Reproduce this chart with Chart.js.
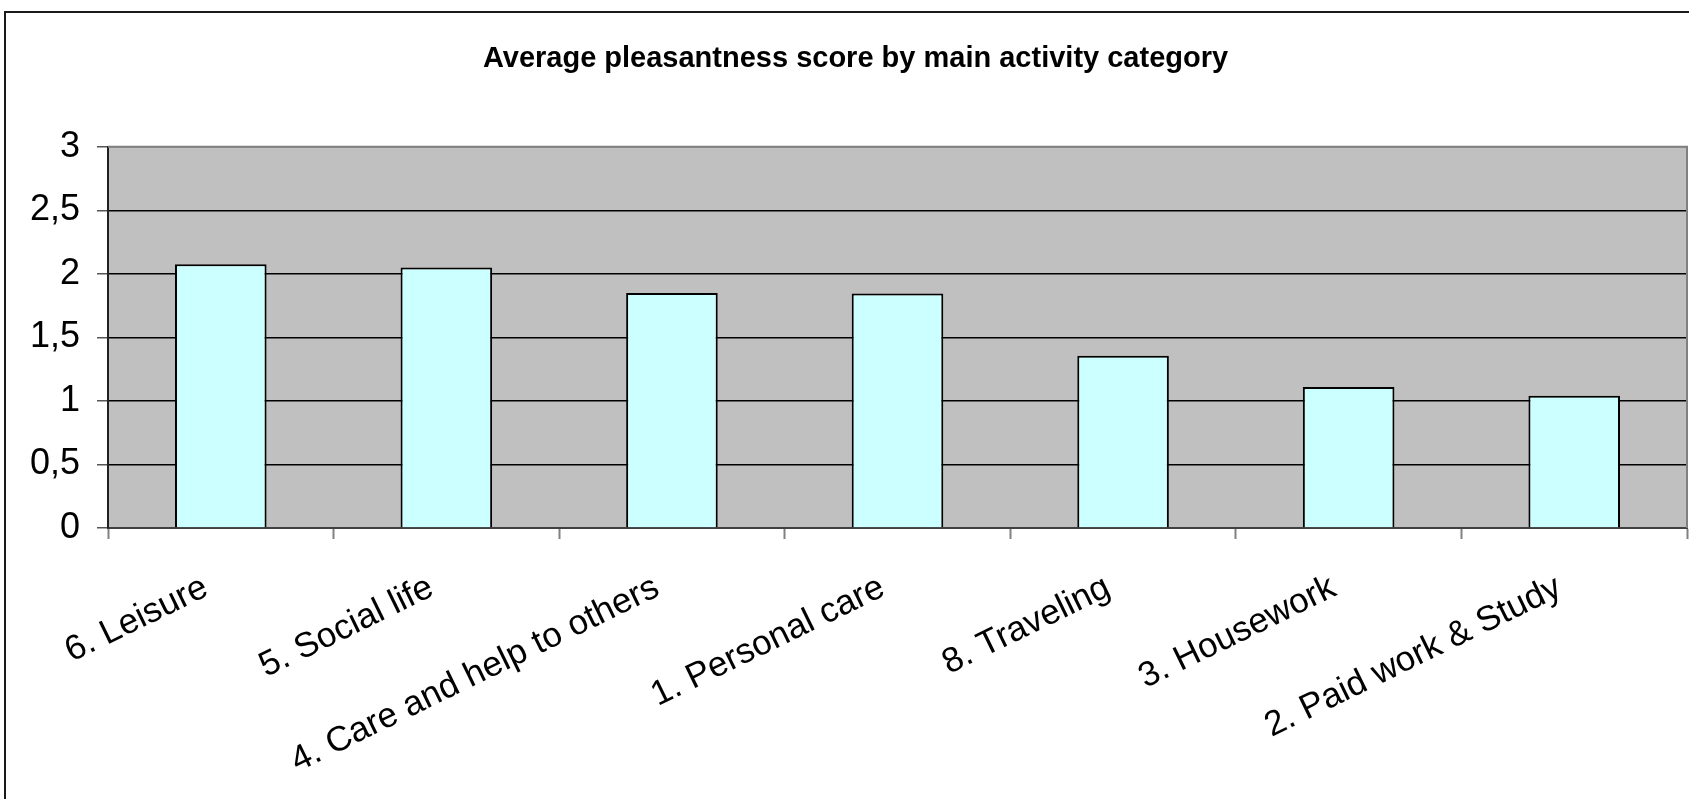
<!DOCTYPE html>
<html>
<head>
<meta charset="utf-8">
<script src="https://cdn.jsdelivr.net/npm/chart.js@4/dist/chart.umd.min.js"></script>
<style>
    html, body { margin: 0; padding: 0; background: #fff; overflow: hidden; }
    #wrap { position: relative; width: 1689px; height: 799px; }
    #frame {
        position: absolute; left: 4px; top: 11px; width: 2000px; height: 2000px;
        border: 2px solid #1a1a1a; pointer-events: none;
    }
</style>
</head>
<body>
<div id="wrap">
    <canvas id="chart" width="1689" height="799"></canvas>
    <div id="frame"></div>
</div>
<script>
const categories = [
    '6. Leisure',
    '5. Social life',
    '4. Care and help to others',
    '1. Personal care',
    '8. Traveling',
    '3. Housework',
    '2. Paid work & Study'
];
const scores = [2.075, 2.05, 1.85, 1.845, 1.355, 1.11, 1.04];
const yTicks = [0, 0.5, 1, 1.5, 2, 2.5, 3];
const chartTitle = 'Average pleasantness score by main activity category';

// gray plot background + gray top/right edge, like the old excel look
const plotArea = {
    id: 'plotArea',
    beforeDraw(chart) {
        const { ctx, chartArea } = chart;
        ctx.save();
        ctx.fillStyle = '#c0c0c0';
        ctx.fillRect(chartArea.left, chartArea.top, chartArea.right - chartArea.left, chartArea.bottom - chartArea.top);
        ctx.restore();
    },
    afterDraw(chart) {
        const { ctx, chartArea } = chart;
        ctx.save();
        ctx.strokeStyle = '#808080';
        ctx.lineWidth = 2;
        ctx.beginPath();
        ctx.moveTo(chartArea.left, chartArea.top);
        ctx.lineTo(chartArea.right, chartArea.top);
        ctx.lineTo(chartArea.right, chartArea.bottom);
        ctx.stroke();
        ctx.restore();
    }
};

const ctx = document.getElementById('chart').getContext('2d');

new Chart(ctx, {
    type: 'bar',
    data: {
        labels: categories,
        datasets: [{
            label: 'Average pleasantness',
            data: scores,
            backgroundColor: '#ccffff',
            borderColor: '#000000',
            borderWidth: 2,
            barPercentage: 0.406,
            categoryPercentage: 1
        }]
    },
    options: {
        responsive: false,
        animation: false,
        layout: {
            padding: { left: 24, right: 2, top: 0, bottom: 0 }
        },
        plugins: {
            legend: { display: false },
            tooltip: { enabled: false },
            title: {
                display: true,
                text: chartTitle,
                color: '#000',
                font: { family: "'Liberation Sans', Arial, sans-serif", size: 29, weight: 'bold' },
                padding: { top: 42, bottom: 70 }
            }
        },
        scales: {
            x: {
                offset: true,
                grid: {
                    offset: true,
                    drawOnChartArea: false,
                    drawTicks: true,
                    tickLength: 11,
                    tickColor: '#808080',
                    tickWidth: 2
                },
                border: { color: '#404040', width: 2 },
                ticks: {
                    autoSkip: false,
                    minRotation: 26,
                    maxRotation: 26,
                    padding: 28,
                    labelOffset: -15,
                    color: '#000',
                    font: { family: "'Liberation Sans', Arial, sans-serif", size: 35 }
                },
                afterFit: function (scale) {
                    scale.height = 271;
                }
            },
            y: {
                min: 0,
                max: 3,
                afterBuildTicks: function (scale) {
                    scale.ticks = yTicks.map(v => ({ value: v }));
                },
                grid: {
                    color: function (c) {
                        return c.tick && c.tick.value === 3 ? '#808080' : '#000000';
                    },
                    lineWidth: 1.5,
                    tickLength: 11,
                    tickColor: '#555555'
                },
                border: { color: '#202020', width: 2 },
                ticks: {
                    padding: 17,
                    color: '#000',
                    font: { family: "'Liberation Sans', Arial, sans-serif", size: 36 },
                    callback: function (value) {
                        return String(value).replace('.', ',');
                    }
                },
                afterFit: function (scale) {
                    scale.width = 84;
                }
            }
        }
    },
    plugins: [plotArea]
});
</script>
</body>
</html>
